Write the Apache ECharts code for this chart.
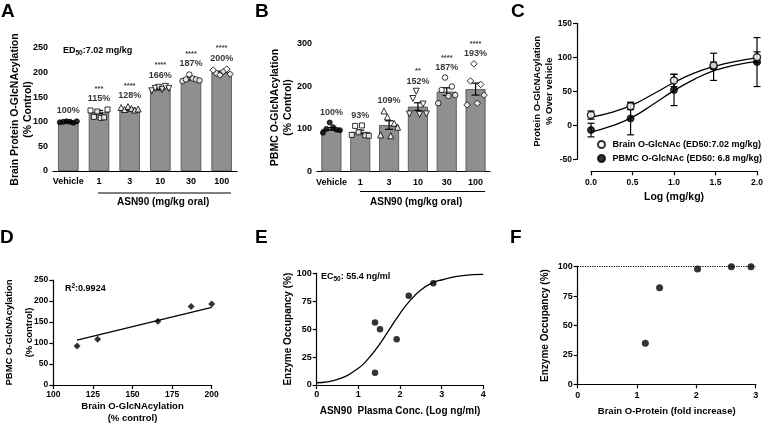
<!DOCTYPE html>
<html><head><meta charset="utf-8">
<script src="https://cdn.jsdelivr.net/npm/echarts@6/dist/echarts.min.js"></script>
<style>html,body{margin:0;padding:0;background:#fff}#c{width:763px;height:424px}</style>
</head><body><div id="c"></div>
<script>
// ---------- DATA ----------
const doseCats = ['Vehicle', '1', '3', '10', '30', '100'];
// Panel A: brain O-GlcNAcylation (% control)
const brainMean = [100, 120, 126, 167, 188, 201];
const brainSem  = [1, 3, 2, 2, 3, 2];
const brainPts  = [
  [99, 100, 101, 100, 98, 101],
  [123, 110, 121, 108, 109, 125],
  [129, 125, 131, 127, 124, 126],
  [163, 168, 170, 166, 172, 168],
  [183, 186, 196, 188, 186, 184],
  [205, 198, 195, 202, 207, 197]
];
const brainPct = ['100%', '115%', '128%', '166%', '187%', '200%'];
const brainSig = ['', '***', '****', '****', '****', '****'];
// Panel B: PBMC O-GlcNAcylation (% control)
const pbmcMean = [100, 93, 109, 152, 187, 193];
const pbmcSem  = [3, 4, 10, 9, 9, 14];
const pbmcPts  = [
  [91, 100, 115, 104, 98, 97],
  [86, 107, 92, 108, 85, 84],
  [86, 142, 128, 84, 113, 104],
  [135, 171, 188, 134, 158, 135],
  [160, 191, 220, 177, 199, 179],
  [156, 212, 252, 160, 204, 179]
];
const pbmcPct = ['100%', '93%', '109%', '152%', '187%', '193%'];
const pbmcSig = ['', '', '', '**', '****', '****'];
// Panel C: % over vehicle vs log dose
const logDose   = [0, 0.477, 1, 1.477, 2];
const cBrain    = [15, 28, 66, 88, 100];
const cBrainErr = [6, 5, 9, 5, 8];
const cPbmc     = [-7, 10, 52, 86, 93];
const cPbmcErr  = [10, 24, 23, 20, 36];
const cFitX     = [0, 0.25, 0.5, 0.75, 1, 1.25, 1.5, 1.75, 2];
const cFitBrain = [12, 19, 30, 46, 63, 77, 87, 94, 99];
const cFitPbmc  = [-10, -1, 12, 31, 51, 68, 81, 89, 94];
const cNames    = ['Brain O-GlcNAc (ED50:7.02 mg/kg)', 'PBMC O-GlcNAc (ED50: 6.8 mg/kg)'];
// Panel D: correlation
const dBrain = [115, 128, 166, 187, 200];
const dPbmc  = [93, 109, 152, 187, 193];
const dRegX  = [115, 200];
const dRegY  = [107, 185];
// Panel E: occupancy vs plasma conc
const eLogConc = [1.40, 1.52, 1.40, 1.92, 2.21, 2.80];
const eOcc     = [56, 50, 11, 41, 80, 91];
const eFitX    = [0, 0.5, 1, 1.25, 1.5, 1.75, 2, 2.25, 2.5, 2.75, 3, 3.5, 4];
const eFitY    = [2, 5, 15, 24, 36, 50, 64, 76, 85, 91, 94, 98, 99];
// Panel F: occupancy vs brain O-protein fold increase
const fFold = [1.14, 1.38, 2.02, 2.59, 2.92];
const fOcc  = [35, 82, 98, 100, 100];

// ---------- STYLE ----------
const FONT = '"Liberation Sans", Arial, Helvetica, sans-serif';
const BLACK = '#000';
const markerSym  = ['circle', 'rect', 'triangle', 'triangle', 'circle', 'diamond'];
const markerRot  = [0, 0, 0, 180, 0, 0];
const markerFill = ['#000', '#fff', '#fff', '#fff', '#fff', '#fff'];
const markerSize = [5, 5, 6, 6, 5.5, 6.5];

const axLine = {lineStyle: {color: BLACK, width: 1.2}};
const axTick = {lineStyle: {color: BLACK, width: 1.2}, length: 4};
function lbl(size, margin, extra) {
  return Object.assign({color: BLACK, fontWeight: 'bold', fontFamily: FONT, fontSize: size, margin: margin}, extra || {});
}
function nameStyle(size, lh) {
  return {color: BLACK, fontWeight: 'bold', fontFamily: FONT, fontSize: size, lineHeight: lh};
}

function errRender(capW) {
  return function (params, api) {
    const x = api.value(0), m = api.value(1), e = api.value(2);
    const hi = api.coord([x, m + e]), lo = api.coord([x, m - e]);
    const st = {stroke: BLACK, lineWidth: 1.2};
    return {type: 'group', children: [
      {type: 'line', shape: {x1: hi[0], y1: hi[1], x2: lo[0], y2: lo[1]}, style: st},
      {type: 'line', shape: {x1: hi[0] - capW, y1: hi[1], x2: hi[0] + capW, y2: hi[1]}, style: st},
      {type: 'line', shape: {x1: lo[0] - capW, y1: lo[1], x2: lo[0] + capW, y2: lo[1]}, style: st}
    ]};
  };
}

function pointItems(pts, spread) {
  const out = [];
  pts.forEach((arr, ci) => {
    arr.forEach((v, j) => {
      out.push({
        value: [ci, v],
        symbol: markerSym[ci],
        symbolRotate: markerRot[ci],
        symbolSize: markerSize[ci],
        symbolOffset: [(j - (arr.length - 1) / 2) * spread, 0],
        itemStyle: {color: markerFill[ci], borderColor: BLACK, borderWidth: 1}
      });
    });
  });
  return out;
}

function labelSeries(axIdx, pts, mean, sem, pct, sig, dist) {
  return {
    type: 'scatter', xAxisIndex: axIdx, yAxisIndex: axIdx, z: 5, silent: true,
    symbolSize: 1, itemStyle: {color: 'transparent'},
    data: pts.map((p, i) => [i, Math.max(Math.max.apply(null, p), mean[i] + sem[i])]),
    label: {
      show: true, position: 'top', distance: dist, color: BLACK, fontFamily: FONT,
      formatter: (p) => (sig[p.dataIndex] ? '{s|' + sig[p.dataIndex] + '}\n' : '') + '{p|' + pct[p.dataIndex] + '}',
      rich: {
        s: {fontSize: 7.5, fontWeight: 'bold', lineHeight: 9, fontFamily: FONT, color: BLACK},
        p: {fontSize: 9, fontWeight: 'bold', lineHeight: 11, fontFamily: FONT, color: BLACK}
      }
    }
  };
}

const grids = [
  {left: 53, top: 48, width: 184, height: 123},      // A
  {left: 317, top: 43.3, width: 173, height: 128.4}, // B
  {left: 591, top: 23.3, width: 166, height: 136},   // C
  {left: 53.3, top: 280, width: 158.4, height: 105}, // D
  {left: 316.7, top: 273.3, width: 166.6, height: 111.7}, // E
  {left: 577.7, top: 266.7, width: 178, height: 117.6}    // F
].map(g => Object.assign({outerBoundsMode: 'none', containLabel: false}, g));

const xAxes = [
  {gridIndex: 0, type: 'category', data: doseCats, axisLine: axLine,
   axisTick: Object.assign({alignWithLabel: true}, axTick), axisLabel: lbl(9, 6, {interval: 0})},
  {gridIndex: 1, type: 'category', data: doseCats, axisLine: axLine,
   axisTick: Object.assign({alignWithLabel: true}, axTick), axisLabel: lbl(9, 6, {interval: 0})},
  {gridIndex: 2, type: 'value', min: 0, max: 2, interval: 0.5, offset: 12, splitLine: {show: false},
   axisLine: Object.assign({onZero: false}, axLine), axisTick: axTick, axisLabel: lbl(8.5, 7, {formatter: v => v.toFixed(1)}),
   name: 'Log (mg/kg)', nameLocation: 'middle', nameGap: 20, nameMoveOverlap: false, nameTextStyle: nameStyle(10.5, 12)},
  {gridIndex: 3, type: 'value', min: 100, max: 200, interval: 25, splitLine: {show: false},
   axisLine: axLine, axisTick: axTick, axisLabel: lbl(8.5, 5),
   name: 'Brain O-GlcNAcylation\n(% control)', nameLocation: 'middle', nameGap: 16, nameMoveOverlap: false, nameTextStyle: nameStyle(9.5, 11.5)},
  {gridIndex: 4, type: 'value', min: 0, max: 4, interval: 1, splitLine: {show: false},
   axisLine: axLine, axisTick: axTick, axisLabel: lbl(9, 5),
   name: 'ASN90  Plasma Conc. (Log ng/ml)', nameLocation: 'middle', nameGap: 20, nameMoveOverlap: false, nameTextStyle: nameStyle(10, 12)},
  {gridIndex: 5, type: 'value', min: 0, max: 3, interval: 1, splitLine: {show: false},
   axisLine: axLine, axisTick: axTick, axisLabel: lbl(9, 7),
   name: 'Brain O-Protein (fold increase)', nameLocation: 'middle', nameGap: 21, nameMoveOverlap: false, nameTextStyle: nameStyle(9.5, 12)}
];

function yAx(gi, min, max, interval, name, gap, fs, lh, extra) {
  return Object.assign({gridIndex: gi, type: 'value', min: min, max: max, interval: interval,
    splitLine: {show: false}, axisLine: Object.assign({onZero: false}, axLine), axisTick: axTick,
    axisLabel: lbl(9, 5), name: name, nameLocation: 'middle', nameRotate: 90, nameGap: gap,
    nameMoveOverlap: false, nameTextStyle: nameStyle(fs, lh)}, extra || {});
}
const yAxes = [
  yAx(0, 0, 250, 50, 'Brain Protein O-GlcNAcylation\n(% Control)', 18.5, 10.5, 13),
  yAx(1, 0, 300, 100, 'PBMC O-GlcNAcylation\n(% Control)', 22, 10.5, 13),
  yAx(2, -50, 150, 50, 'Protein O-GlcNAcylation\n% Over vehicle', 22, 9.5, 12,
      {offset: 14, axisLabel: lbl(8.5, 5)}),
  yAx(3, 0, 250, 50, 'PBMC O-GlcNAcylation\n(% control)', 13.5, 9.5, 20, {axisLabel: lbl(8.5, 5)}),
  yAx(4, 0, 100, 25, 'Enzyme Occupancy (%)', 22, 10, 12),
  yAx(5, 0, 100, 25, 'Enzyme Occupancy (%)', 26.5, 10, 12)
];

const lineBlack = {color: BLACK, width: 1.3};

const series = [
  // ---- A ----
  {type: 'bar', xAxisIndex: 0, yAxisIndex: 0, data: brainMean, barWidth: 20.5,
   itemStyle: {color: '#8f8f8f', borderColor: '#4a4a4a', borderWidth: 0.8}},
  {type: 'custom', xAxisIndex: 0, yAxisIndex: 0, renderItem: errRender(4), z: 3,
   data: brainMean.map((m, i) => [i, m, brainSem[i]])},
  {type: 'scatter', xAxisIndex: 0, yAxisIndex: 0, z: 4, data: pointItems(brainPts, 3.4)},
  labelSeries(0, brainPts, brainMean, brainSem, brainPct, brainSig, 5),
  // ---- B ----
  {type: 'bar', xAxisIndex: 1, yAxisIndex: 1, data: pbmcMean, barWidth: 20,
   itemStyle: {color: '#8f8f8f', borderColor: '#4a4a4a', borderWidth: 0.8}},
  {type: 'custom', xAxisIndex: 1, yAxisIndex: 1, renderItem: errRender(4), z: 3,
   data: pbmcMean.map((m, i) => [i, m, pbmcSem[i]])},
  {type: 'scatter', xAxisIndex: 1, yAxisIndex: 1, z: 4, data: pointItems(pbmcPts, 3.4)},
  labelSeries(1, pbmcPts, pbmcMean, pbmcSem, pbmcPct, pbmcSig, 4),
  // ---- C ----
  {type: 'line', xAxisIndex: 2, yAxisIndex: 2, smooth: true, showSymbol: false, clip: false,
   lineStyle: lineBlack, data: cFitX.map((x, i) => [x, cFitBrain[i]]), silent: true},
  {type: 'line', xAxisIndex: 2, yAxisIndex: 2, smooth: true, showSymbol: false, clip: false,
   lineStyle: lineBlack, data: cFitX.map((x, i) => [x, cFitPbmc[i]]), silent: true},
  {type: 'custom', xAxisIndex: 2, yAxisIndex: 2, renderItem: errRender(3.5), clip: false,
   data: logDose.map((x, i) => [x, cPbmc[i], cPbmcErr[i]])},
  {type: 'custom', xAxisIndex: 2, yAxisIndex: 2, renderItem: errRender(3.5), clip: false,
   data: logDose.map((x, i) => [x, cBrain[i], cBrainErr[i]])},
  {type: 'scatter', name: cNames[1], xAxisIndex: 2, yAxisIndex: 2, symbol: 'circle', symbolSize: 7, clip: false, z: 4,
   itemStyle: {color: BLACK, borderColor: BLACK, borderWidth: 1},
   data: logDose.map((x, i) => [x, cPbmc[i]])},
  {type: 'scatter', name: cNames[0], xAxisIndex: 2, yAxisIndex: 2, symbol: 'circle', symbolSize: 7, clip: false, z: 5,
   itemStyle: {color: '#fff', borderColor: BLACK, borderWidth: 1.5},
   data: logDose.map((x, i) => [x, cBrain[i]])},
  // ---- D ----
  {type: 'line', xAxisIndex: 3, yAxisIndex: 3, showSymbol: false, lineStyle: lineBlack, silent: true,
   data: dRegX.map((x, i) => [x, dRegY[i]])},
  {type: 'scatter', xAxisIndex: 3, yAxisIndex: 3, symbol: 'diamond', symbolSize: 7, clip: false,
   itemStyle: {color: BLACK}, data: dBrain.map((x, i) => [x, dPbmc[i]])},
  // ---- E ----
  {type: 'line', xAxisIndex: 4, yAxisIndex: 4, smooth: true, showSymbol: false, lineStyle: lineBlack, silent: true,
   clip: false, data: eFitX.map((x, i) => [x, eFitY[i]])},
  {type: 'scatter', xAxisIndex: 4, yAxisIndex: 4, symbol: 'circle', symbolSize: 6.5, clip: false,
   itemStyle: {color: BLACK}, data: eLogConc.map((x, i) => [x, eOcc[i]])},
  // ---- F ----
  {type: 'scatter', xAxisIndex: 5, yAxisIndex: 5, symbol: 'circle', symbolSize: 7, clip: false,
   itemStyle: {color: BLACK}, data: fFold.map((x, i) => [x, fOcc[i]]),
   markLine: {silent: true, symbol: 'none', label: {show: false},
     lineStyle: {color: BLACK, type: 'dotted', width: 1.2}, data: [{yAxis: 100}]}}
];

function letter(t, x, y) {
  return {type: 'text', left: x, top: y, style: {text: t, fontSize: 19, fontWeight: 'bold', fontFamily: FONT, fill: BLACK}};
}
const subRich = {
  a: {fontSize: 9, fontWeight: 'bold', fontFamily: FONT, fill: BLACK},
  sub: {fontSize: 6.5, fontWeight: 'bold', fontFamily: FONT, fill: BLACK, padding: [5, 0, 0, 0]},
  sup: {fontSize: 6.5, fontWeight: 'bold', fontFamily: FONT, fill: BLACK, padding: [0, 0, 5, 0]}
};
function richText(txt, x, y) {
  return {type: 'text', left: x, top: y, style: {text: txt, rich: subRich, fill: BLACK}};
}

const graphic = [
  letter('A', 1, 2), letter('B', 255, 2), letter('C', 511, 2),
  letter('D', 0, 228), letter('E', 255, 228), letter('F', 510, 228),
  richText('{a|ED}{sub|50}{a|:7.02 mg/kg}', 63, 46),
  richText('{a|R}{sup|2}{a|:0.9924}', 65, 283),
  richText('{a|EC}{sub|50}{a|: 55.4 ng/ml}', 321, 272),
  {type: 'line', shape: {x1: 98, y1: 193, x2: 231, y2: 193}, style: {stroke: BLACK, lineWidth: 1.2}},
  {type: 'text', left: 117, top: 197, style: {text: 'ASN90 (mg/kg oral)', fontSize: 10, fontWeight: 'bold', fontFamily: FONT, fill: BLACK}},
  {type: 'line', shape: {x1: 360, y1: 191.5, x2: 485, y2: 191.5}, style: {stroke: BLACK, lineWidth: 1.2}},
  {type: 'text', left: 370, top: 197, style: {text: 'ASN90 (mg/kg oral)', fontSize: 10, fontWeight: 'bold', fontFamily: FONT, fill: BLACK}}
];

const chart = echarts.init(document.getElementById('c'), null, {renderer: 'canvas'});
chart.setOption({
  animation: false,
  backgroundColor: '#fff',
  textStyle: {fontFamily: FONT},
  grid: grids, xAxis: xAxes, yAxis: yAxes, series: series, graphic: graphic,
  legend: {data: cNames, orient: 'vertical', left: 592, top: 135, itemWidth: 12, itemHeight: 7, itemGap: 5,
    icon: 'circle', selectedMode: false,
    textStyle: {fontSize: 9, fontWeight: 'bold', fontFamily: FONT, color: BLACK}}
});
</script></body></html>
